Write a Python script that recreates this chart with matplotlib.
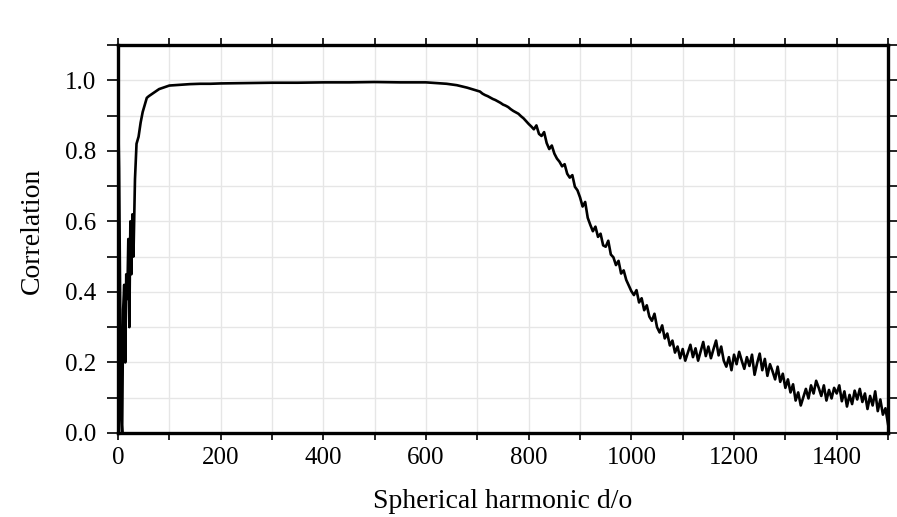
import numpy as np
import matplotlib
matplotlib.use("Agg")
import matplotlib.pyplot as plt
from matplotlib.ticker import MultipleLocator

# degree/order (start: fine steps, then coarse flat part, then 5-step tail)
deg_start = [0, 2, 4, 6, 8, 10, 12, 14, 16, 18, 20, 22, 24, 26, 28, 30,
             33, 36, 40, 44, 48, 52, 56, 60, 70, 80, 90, 100]
corr_start = [0.93, 0.75, 0.40, 0.05, 0.0, 0.35, 0.42, 0.20, 0.45, 0.38,
              0.55, 0.30, 0.60, 0.45, 0.62, 0.50, 0.72, 0.82, 0.84, 0.88,
              0.91, 0.93, 0.95, 0.955, 0.965, 0.975, 0.98, 0.985]

deg_flat = [120, 140, 160, 180, 200, 250, 300, 350, 400, 450, 500, 550,
            600, 620, 640, 660, 680]
corr_flat = [0.987, 0.989, 0.99, 0.99, 0.991, 0.992, 0.993, 0.993, 0.994,
             0.994, 0.995, 0.994, 0.994, 0.992, 0.99, 0.986, 0.979]

deg_tail = list(range(700, 1505, 5))
corr_tail = [
    0.970, 0.968, 0.962, 0.958, 0.955, 0.951, 0.947, 0.944, 0.940, 0.936,
    0.931, 0.928, 0.924, 0.918, 0.913, 0.909, 0.905, 0.898, 0.892, 0.884,
    0.876, 0.869, 0.861, 0.872, 0.848, 0.842, 0.853, 0.822, 0.805, 0.815,
    0.792, 0.778, 0.769, 0.756, 0.762, 0.735, 0.724, 0.731, 0.698, 0.688,
    0.668, 0.642, 0.655, 0.610, 0.590, 0.572, 0.585, 0.556, 0.565, 0.532,
    0.528, 0.545, 0.506, 0.498, 0.476, 0.488, 0.452, 0.461, 0.434, 0.418,
    0.402, 0.391, 0.405, 0.370, 0.382, 0.348, 0.362, 0.330, 0.318, 0.338,
    0.300, 0.285, 0.305, 0.268, 0.282, 0.248, 0.262, 0.228, 0.245, 0.212,
    0.238, 0.205, 0.228, 0.250, 0.215, 0.240, 0.205, 0.232, 0.258, 0.218,
    0.245, 0.212, 0.238, 0.262, 0.220, 0.245, 0.205, 0.188, 0.215, 0.178,
    0.222, 0.195, 0.230, 0.205, 0.182, 0.215, 0.190, 0.222, 0.165, 0.198,
    0.225, 0.178, 0.210, 0.162, 0.195, 0.175, 0.152, 0.188, 0.145, 0.168,
    0.128, 0.152, 0.115, 0.138, 0.092, 0.115, 0.078, 0.102, 0.125, 0.098,
    0.135, 0.112, 0.148, 0.128, 0.105, 0.135, 0.092, 0.122, 0.098, 0.128,
    0.112, 0.135, 0.090, 0.118, 0.075, 0.108, 0.082, 0.120, 0.095, 0.125,
    0.088, 0.112, 0.068, 0.105, 0.078, 0.118, 0.062, 0.095, 0.052, 0.070,
    0.025]

deg = np.array(deg_start + deg_flat + deg_tail)
corr = np.array(corr_start + corr_flat + corr_tail)

plt.rcParams['font.family'] = ['Liberation Serif', 'DejaVu Serif']

fig = plt.figure(figsize=(8.97, 5.17), dpi=100)
ax = fig.add_axes([0.1316, 0.1625, 0.8584, 0.7505])

ax.plot(deg, corr, color='black', lw=1.9)

ax.set_xlim(0, 1500)
ax.set_ylim(0, 1.1)
ax.xaxis.set_major_locator(MultipleLocator(200))
ax.xaxis.set_minor_locator(MultipleLocator(100))
ax.yaxis.set_major_locator(MultipleLocator(0.2))
ax.yaxis.set_minor_locator(MultipleLocator(0.1))
ax.yaxis.set_major_formatter(matplotlib.ticker.FormatStrFormatter('%.1f'))

ax.grid(which='both', color='#e6e6e6', lw=1.0)
ax.set_axisbelow(True)

ax.tick_params(axis='x', which='both', direction='out', top=True,
               length=5, width=1.2, labelsize=18, pad=5)
ax.tick_params(axis='y', which='both', direction='out', right=True,
               length=8, width=1.2, labelsize=18, pad=8)
for s in ax.spines.values():
    s.set_linewidth(2.4)

ax.set_xlabel('Spherical harmonic d/o', fontsize=20)
ax.set_ylabel('Correlation', fontsize=20)
ax.xaxis.set_label_coords(0.5, -0.145)
ax.yaxis.set_label_coords(-0.095, 0.52)

fig.savefig('out.png', dpi=100)
